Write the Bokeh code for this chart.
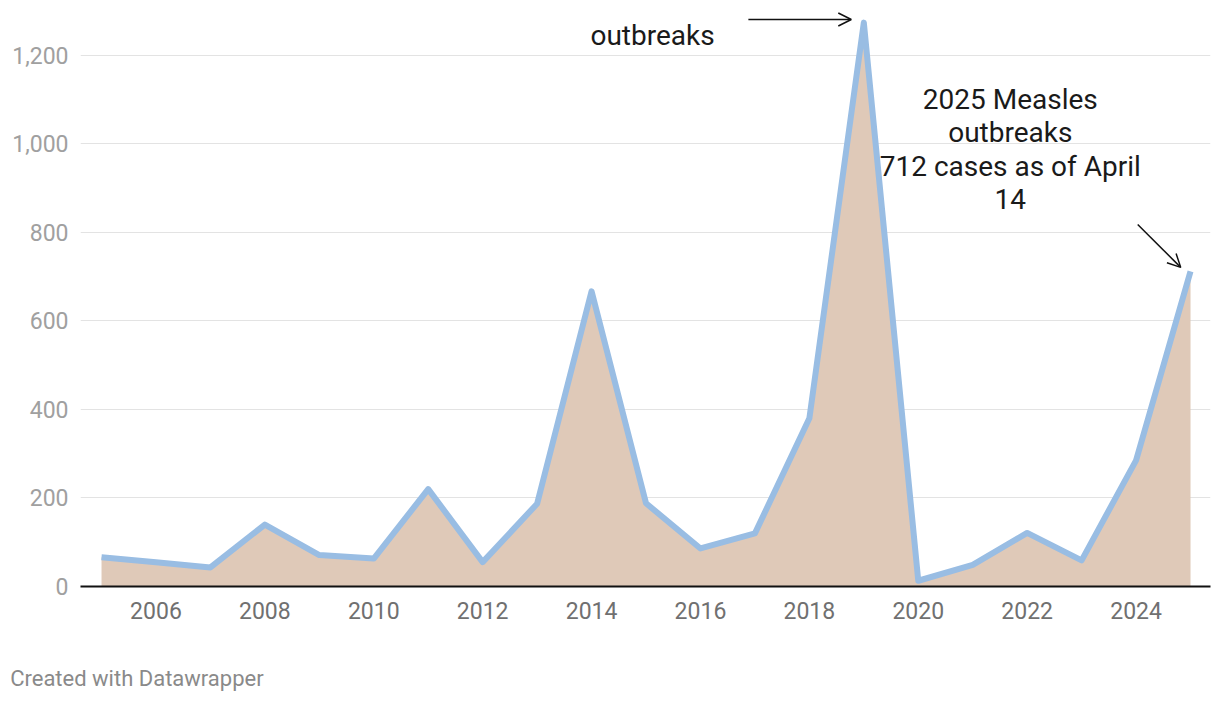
from bokeh.plotting import figure
from bokeh.models import (ColumnDataSource, FixedTicker, NumeralTickFormatter, Range1d,
                          Arrow, OpenHead, LinearAxis)
from bokeh.core.properties import value
from bokeh.embed import file_html
from bokeh.resources import INLINE

years = list(range(2005, 2026))
cases = [66, 55, 43, 140, 71, 63, 220, 55, 187, 667, 188, 86, 120, 380, 1274, 13, 49, 121, 59, 285, 712]

y_ticks = [0, 200, 400, 600, 800, 1000, 1200]
x_ticks = [2006, 2008, 2010, 2012, 2014, 2016, 2018, 2020, 2022, 2024]

note_2019 = ["2019 Measles", "outbreaks"]
note_2025 = ["2025 Measles", "outbreaks", "712 cases as of April", "14"]
credit = "Created with Datawrapper"

FONT = "Roboto"

p = figure(width=1220, height=704, output_backend="svg", toolbar_location=None,
           x_range=Range1d(2004.614, 2025.367), y_range=Range1d(0, 1324),
           min_border_left=80, min_border_right=10, min_border_top=0, min_border_bottom=118)
p.outline_line_color = None
p.background_fill_color = "white"
p.border_fill_color = "white"

src = ColumnDataSource(dict(year=years, cases=cases))
p.varea(x="year", y1=0, y2="cases", source=src, fill_color="#dfc9b8", fill_alpha=1.0)
p.line(x="year", y="cases", source=src, line_color="#99bde3", line_width=6,
       line_join="round")

# axes
p.xaxis.ticker = FixedTicker(ticks=x_ticks)
p.xaxis.axis_line_color = "#111111"
p.xaxis.axis_line_width = 2
p.xaxis.major_tick_line_color = None
p.xaxis.minor_tick_line_color = None
p.xaxis.major_tick_out = 0
p.xaxis.major_tick_in = 0
p.xaxis.major_label_text_font = FONT
p.xaxis.major_label_text_font_size = "23px"
p.xaxis.major_label_text_color = "#707070"
p.xaxis.major_label_standoff = 15

p.yaxis.ticker = FixedTicker(ticks=y_ticks)
p.yaxis.formatter = NumeralTickFormatter(format="0,0")
p.yaxis.axis_line_color = None
p.yaxis.major_tick_line_color = None
p.yaxis.minor_tick_line_color = None
p.yaxis.major_tick_out = 0
p.yaxis.major_tick_in = 0
p.yaxis.major_label_text_font = FONT
p.yaxis.major_label_text_font_size = "23px"
p.yaxis.major_label_text_color = "#a0a0a0"
p.yaxis.major_label_standoff = 12

p.xgrid.grid_line_color = None
p.ygrid.grid_line_color = "#e3e3e3"
p.ygrid.grid_line_width = 1

# annotations (the reference's top edge crops the first line of the 2019 note)
n1 = ColumnDataSource(dict(x=[2015.12, 2015.12], y=[1350, 1245], t=note_2019))
p.text(x="x", y="y", text="t", source=n1, text_font=value(FONT), text_font_size="28px",
       text_align="center", text_baseline="middle", text_color="#1a1a1a")
n2 = ColumnDataSource(dict(x=[2021.69] * 4, y=[1100.6, 1026, 949, 874.6], t=note_2025))
p.text(x="x", y="y", text="t", source=n2, text_font=value(FONT), text_font_size="28px",
       text_align="center", text_baseline="middle", text_color="#1a1a1a")

p.add_layout(Arrow(x_start=2016.88, y_start=1281, x_end=2018.77, y_end=1281,
                   line_color="#111111", line_width=1.5,
                   end=OpenHead(size=13, line_color="#111111", line_width=1.5)))
p.add_layout(Arrow(x_start=2024.03, y_start=818, x_end=2024.82, y_end=721,
                   line_color="#111111", line_width=1.5,
                   end=OpenHead(size=13, line_color="#111111", line_width=1.5)))

# credit line, set under the year axis
credit_pos = 2005.65
credit_axis = LinearAxis(ticker=FixedTicker(ticks=[credit_pos]),
                         major_label_overrides={credit_pos: credit},
                         axis_line_color=None, major_tick_line_color=None,
                         minor_tick_line_color=None, major_tick_out=0, major_tick_in=0,
                         major_label_standoff=44, major_label_text_font=FONT,
                         major_label_text_font_size="22px",
                         major_label_text_color="#8a8a8a")
p.add_layout(credit_axis, "below")

open("out.html", "w").write(file_html(p, INLINE))
